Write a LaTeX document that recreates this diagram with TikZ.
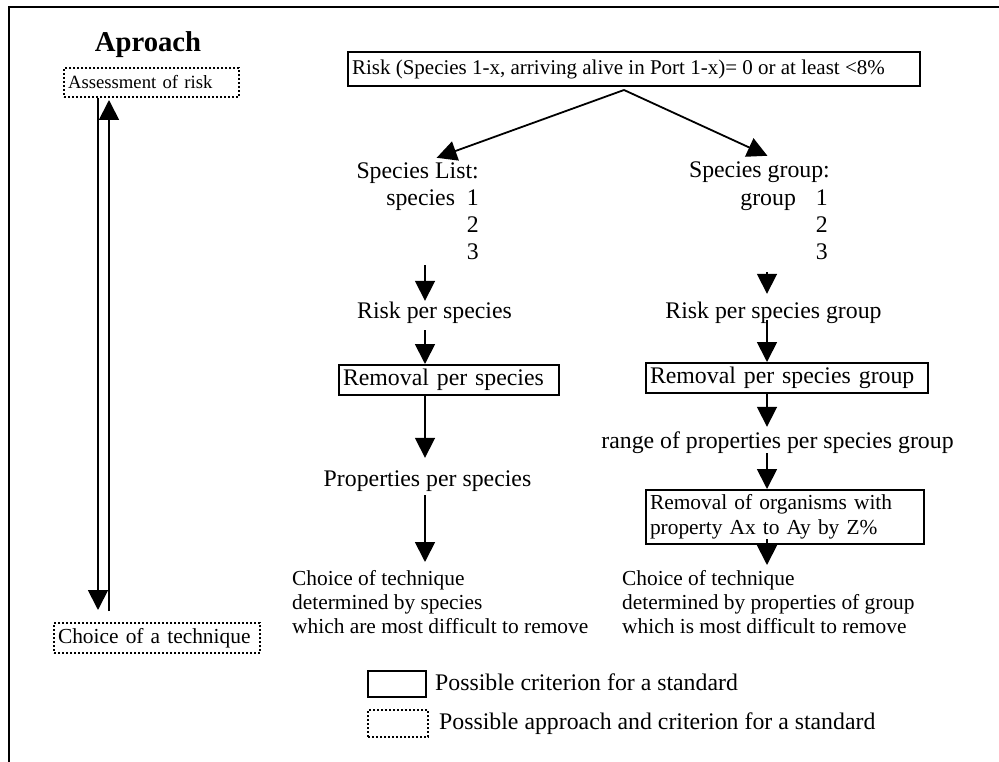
\documentclass[tikz,border=0pt]{standalone}
\usepackage{fontspec}
\setmainfont{Liberation Serif}
\usetikzlibrary{arrows.meta,positioning}

\newcommand{\mainfs}{\fontsize{23.8pt}{27pt}\selectfont}
\newcommand{\smallfs}{\fontsize{21.4pt}{24pt}\selectfont}
\newcommand{\tinyfs}{\fontsize{18.7pt}{22pt}\selectfont}
\newcommand{\titlefs}{\fontsize{28.7pt}{32pt}\selectfont\bfseries}

\begin{document}
\begin{tikzpicture}[x=1pt, y=-1pt,
    txt/.style={inner sep=0pt, font=\mainfs, text height=17pt, text depth=5pt},
    critbox/.style={draw, line width=2pt, inner xsep=4pt, inner ysep=0pt, align=left, anchor=north west},
    apprbox/.style={critbox, dotted},
    arr/.style={-{Triangle[width=20pt,length=20pt]}, line width=1.8pt}
]
    \useasboundingbox (0,0) rectangle (999,762);
    \draw[line width=2pt] (9,762) -- (9,7) -- (999,7);

    % approach column
    \node[font=\titlefs, inner sep=0pt] (title) at (148,45) {Aproach};
    \node[apprbox, font=\tinyfs, text width=167pt, minimum height=29pt] (assess) at (63,67) {Assessment of risk};
    \node[apprbox, font=\smallfs, text width=198pt, minimum height=30pt] (choice) at (53,622) {Choice of a technique};
    \draw[arr] ([xshift=-53.5pt]assess.south) -- ([xshift=-59pt,yshift=12pt]choice.north);
    \draw[arr] ([xshift=-48pt,yshift=11pt]choice.north) -- ([xshift=-42.5pt,yshift=-2pt]assess.south);

    % top criterion
    \node[critbox, font=\fontsize{21pt}{24pt}\selectfont, minimum height=34pt] (top) at (347,51)
        {\makebox[564pt][l]{Risk (Species 1-x, arriving alive in Port 1-x)= 0 or at least <8\%}};

    % species branch
    \node[txt, anchor=east] (spl) at (479,173) {Species List:};
    \node[txt, anchor=east] (sp1) at (479,200) {species\ \ 1};
    \node[txt, anchor=east] (sp2) at (479,227) {2};
    \node[txt, anchor=east] (sp3) at (479,254) {3};
    \node[txt] (risksp) at (434.5,312) {Risk per species};
    \node[critbox, font=\mainfs, text width=212pt, minimum height=30pt] (remsp) at (338,364) {Removal per species};
    \node[txt] (propsp) at (427.5,480) {Properties per species};
    \node[inner sep=0pt, font=\smallfs, align=left, anchor=north west] (choicesp) at (292,570)
        {Choice of technique\\determined by species\\which are most difficult to remove};

    % group branch
    \node[txt, anchor=east] (sgr) at (830,172) {Species group:};
    \node[txt, anchor=east] (sg1) at (828,200) {group\hspace{20pt}1};
    \node[txt, anchor=east] (sg2) at (828,227) {2};
    \node[txt, anchor=east] (sg3) at (828,254) {3};
    \node[txt] (riskgr) at (773.5,312) {Risk per species group};
    \node[critbox, font=\mainfs, text width=274pt, minimum height=30pt] (remgr) at (645,362) {Removal per species group};
    \node[txt] (rangegr) at (777.5,442) {range of properties per species group};
    \node[critbox, font=\fontsize{21.4pt}{25pt}\selectfont, text width=270pt, minimum height=54pt] (orggr) at (645,489)
        {Removal of organisms with\\property Ax to Ay by Z\%};
    \node[inner sep=0pt, font=\smallfs, align=left, anchor=north west] (choicegr) at (622,570)
        {Choice of technique\\determined by properties of group\\which is most difficult to remove};

    % connectors
    \coordinate (colL) at (425,0);
    \coordinate (colR) at (767,0);
    \draw[arr] ([xshift=-10pt,yshift=-3pt]top.south) -- ([xshift=19pt,yshift=4pt]spl.north);
    \draw[arr] ([xshift=-10pt,yshift=-3pt]top.south) -- ([xshift=8pt,yshift=5pt]sgr.north);

    \draw[arr] (colL |- sp3.south) -- (colL |- risksp.north);
    \draw[arr, shorten <=7pt] (colL |- risksp.south) -- (colL |- remsp.north);
    \draw[arr, shorten >=11pt] (colL |- remsp.south) -- (colL |- propsp.north);
    \draw[arr, shorten <=4pt, shorten >=8pt] (colL |- propsp.south) -- (colL |- choicesp.north);

    \draw[arr, shorten <=7pt, shorten >=7pt] (colR |- sg3.south) -- (colR |- riskgr.north);
    \draw[arr, shorten <=-3pt] (colR |- riskgr.south) -- (colR |- remgr.north);
    \draw[arr, shorten >=4pt] (colR |- remgr.south) -- (colR |- rangegr.north);
    \draw[arr] (colR |- rangegr.south) -- (colR |- orggr.north);
    \draw[arr, shorten <=-6pt, shorten >=5pt] (colR |- orggr.south) -- (colR |- choicegr.north);

    % legend
    \node[critbox, minimum width=58pt, minimum height=26pt] (legcrit) at (367,670) {};
    \node[txt, right=8pt of legcrit] (legcrittxt) {Possible criterion for a standard};
    \node[apprbox, minimum width=60pt, minimum height=27pt] (legappr) at (367,709) {};
    \node[txt, right=10pt of legappr] (legapprtxt) {Possible approach and criterion for a standard};
\end{tikzpicture}
\end{document}
